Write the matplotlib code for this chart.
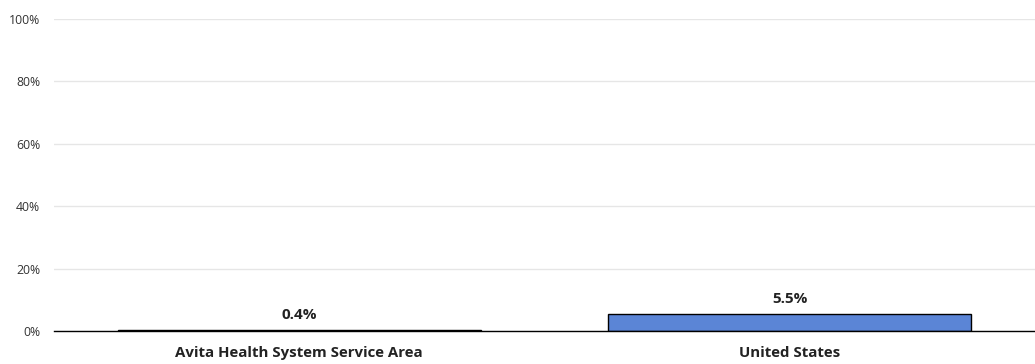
import matplotlib
matplotlib.use("Agg")
import matplotlib.pyplot as plt
from matplotlib.ticker import FuncFormatter

categories = ["Avita Health System Service Area", "United States"]
values = [0.4, 5.5]
value_labels = ["0.4%", "5.5%"]
yticks = [0, 20, 40, 60, 80, 100]

plt.rcParams['font.family'] = ['Open Sans', 'DejaVu Sans']

fig = plt.figure(figsize=(10.35, 3.64), dpi=100)
ax = fig.add_axes([0.0522, 0.0907, 0.9478, 0.8571])

x = range(len(categories))
ax.bar(x, values, width=0.74, color="#5B85D6", edgecolor="black", linewidth=1.0, zorder=3)
for xi, v, lab in zip(x, values, value_labels):
    ax.text(xi, v + 2.6, lab, ha="center", va="bottom", fontsize=11, fontweight="bold", color="#222222")

ax.set_xlim(-0.5, 1.5)
ax.set_ylim(0, 100)
ax.set_yticks(yticks)
ax.yaxis.set_major_formatter(FuncFormatter(lambda v, p: f"{int(v)}%"))
ax.set_xticks(list(x))
ax.set_xticklabels(categories, fontsize=10.8, fontweight="bold", color="#222222")
ax.tick_params(axis="y", length=0, labelsize=8.8, colors="#333333", pad=10)
ax.tick_params(axis="x", length=0, pad=11)
ax.grid(axis="y", color="#e6e6e6", linewidth=1, zorder=0)
for s in ["top", "right", "left"]:
    ax.spines[s].set_visible(False)
ax.spines["bottom"].set_color("black")
ax.spines["bottom"].set_linewidth(1.0)
ax.spines["bottom"].set_zorder(4)

fig.savefig("out.png", dpi=100)
